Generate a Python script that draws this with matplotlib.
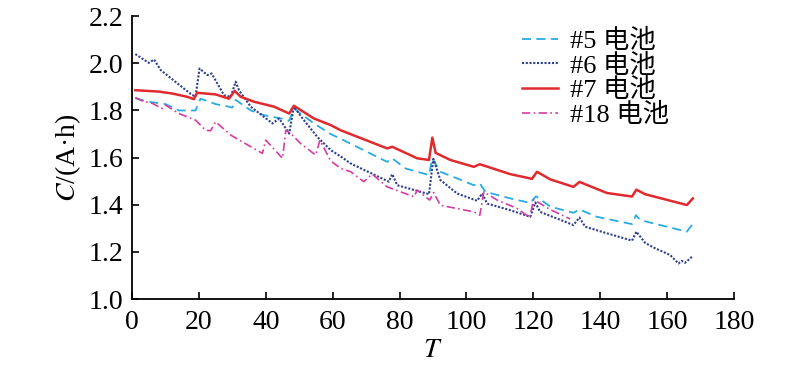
# -*- coding: utf-8 -*-
# battery capacity fade curves (#5, #6, #7, #18)
import matplotlib
matplotlib.use("Agg")
import matplotlib.pyplot as plt

plt.rcParams['font.family'] = ['Liberation Serif', 'Noto Sans CJK SC']
plt.rcParams['mathtext.fontset'] = 'stix'

# cycle / capacity pairs
t5 = [1, 5, 10, 14, 19, 20.5, 25, 29, 30, 31, 35.5, 39.5, 44.5, 47, 48.4, 54.4, 59.4, 62.4,
      76.3, 77.8, 81.8, 88.8, 89.8, 90.5, 92.2, 97.2, 102.2, 104, 105.7, 113.1, 119.1, 120.8,
      125.1, 132, 133.8, 139, 149.5, 150.7, 152, 165.9, 167.7]
c5 = [1.852, 1.837, 1.827, 1.80, 1.80, 1.85, 1.827, 1.816, 1.812, 1.845, 1.80, 1.78, 1.766, 1.756,
      1.808, 1.745, 1.70, 1.68, 1.582, 1.597, 1.554, 1.526, 1.597, 1.58, 1.54, 1.512, 1.483, 1.49,
      1.455, 1.427, 1.408, 1.436, 1.392, 1.366, 1.38, 1.349, 1.318, 1.356, 1.335, 1.286, 1.32]

t6 = [1, 5, 6.6, 8.6, 18, 19, 20.2, 22.5, 23.8, 27.5, 29.5, 31, 32, 35.5, 42, 44, 47, 48.4, 51,
      55.4, 59.4, 62.4, 65.4, 76.8, 77.8, 79.3, 88.8, 90.1, 92.2, 97.2, 103.2, 104.7, 106.2, 113.1,
      119.1, 120.6, 122, 127, 132, 133.8, 135.5, 142, 149.5, 150.8, 153.4, 155.9, 160.9, 163.4,
      164.4, 165.4, 167.7]
c6 = [2.039, 2.002, 2.016, 1.971, 1.865, 1.86, 1.978, 1.95, 1.957, 1.865, 1.858, 1.922, 1.886,
      1.816, 1.745, 1.766, 1.702, 1.816, 1.766, 1.688, 1.632, 1.605, 1.575, 1.498, 1.53, 1.483,
      1.445, 1.595, 1.505, 1.448, 1.417, 1.448, 1.405, 1.377, 1.349, 1.41, 1.37, 1.342, 1.314,
      1.346, 1.307, 1.279, 1.248, 1.286, 1.239, 1.219, 1.187, 1.151, 1.162, 1.154, 1.183]

t7 = [1, 8, 12, 16.5, 18.5, 19.5, 25, 29, 30.7, 32.5, 36.5, 42.5, 47, 48.4, 54.4, 59.4, 62.4,
      76.3, 77.8, 85.3, 88.8, 89.8, 90.8, 95.2, 102.2, 104, 113.1, 119.6, 121.1, 125, 132, 133.8,
      142, 149.5, 150.8, 153.4, 165.9, 167.7]
c7 = [1.886, 1.88, 1.872, 1.858, 1.848, 1.875, 1.868, 1.85, 1.883, 1.858, 1.837, 1.816, 1.787,
      1.82, 1.766, 1.738, 1.716, 1.639, 1.646, 1.597, 1.59, 1.685, 1.62, 1.59, 1.561, 1.572, 1.53,
      1.51, 1.54, 1.508, 1.476, 1.497, 1.45, 1.435, 1.464, 1.445, 1.399, 1.427]

t18 = [1, 3.1, 6.1, 9, 10, 14, 19, 22, 23.5, 25, 29.6, 31, 39, 40, 45, 46, 47.5, 50.4, 54.9, 56.2,
       59.4, 62.4, 65.4, 69.3, 71.8, 76.3, 84.3, 85.3, 89, 90.2, 92.2, 102.2, 104, 105.2, 109.2,
       115.1, 118.9, 120.1, 125, 131]
c18 = [1.855, 1.84, 1.83, 1.808, 1.823, 1.787, 1.759, 1.716, 1.714, 1.752, 1.695, 1.683, 1.618,
       1.674, 1.597, 1.716, 1.702, 1.66, 1.611, 1.674, 1.586, 1.554, 1.54, 1.498, 1.53, 1.476,
       1.434, 1.462, 1.42, 1.452, 1.398, 1.37, 1.356, 1.455, 1.42, 1.385, 1.346, 1.422, 1.38, 1.34]

fig = plt.figure(figsize=(8, 3.67), dpi=100)
ax = fig.add_axes([0.165, 0.185, 0.7525, 0.771])

ax.plot(t5, c5, color='#29abe2', ls=(0, (5, 3)), lw=1.3, label='#5 电池')
ax.plot(t6, c6, color='#2e3f8f', ls=(0, (1, 0.8)), lw=1.5, label='#6 电池')
ax.plot(t7, c7, color='#e02a2e', ls='-', lw=1.8, label='#7 电池')
ax.plot(t18, c18, color='#d63ca0', ls=(0, (5, 2, 1, 2)), lw=1.2, label='#18 电池')

ax.set_xlim(0, 180)
ax.set_ylim(1.0, 2.2)
ax.set_xticks(range(0, 181, 20))
ax.set_yticks([1.0, 1.2, 1.4, 1.6, 1.8, 2.0, 2.2])
ax.set_yticklabels(['1.0', '1.2', '1.4', '1.6', '1.8', '2.0', '2.2'])
ax.spines['top'].set_visible(False)
ax.spines['right'].set_visible(False)
for s in ['left', 'bottom']:
    ax.spines[s].set_linewidth(1.3)
ax.tick_params(direction='in', length=5, width=1.2, labelsize=20)
ax.tick_params(axis='x', pad=8)
ax.tick_params(axis='y', pad=6)

ax.set_xlabel('$T$', fontsize=20, labelpad=2)
ax.set_ylabel('$C$/(A·h)', fontsize=20, labelpad=4)

ax.legend(loc='upper left', bbox_to_anchor=(0.648, 0.955), frameon=False, fontsize=19,
          handlelength=1.35, handletextpad=0.45, labelspacing=0.02, borderpad=0,
          borderaxespad=0)

fig.savefig('out.png', dpi=100)
